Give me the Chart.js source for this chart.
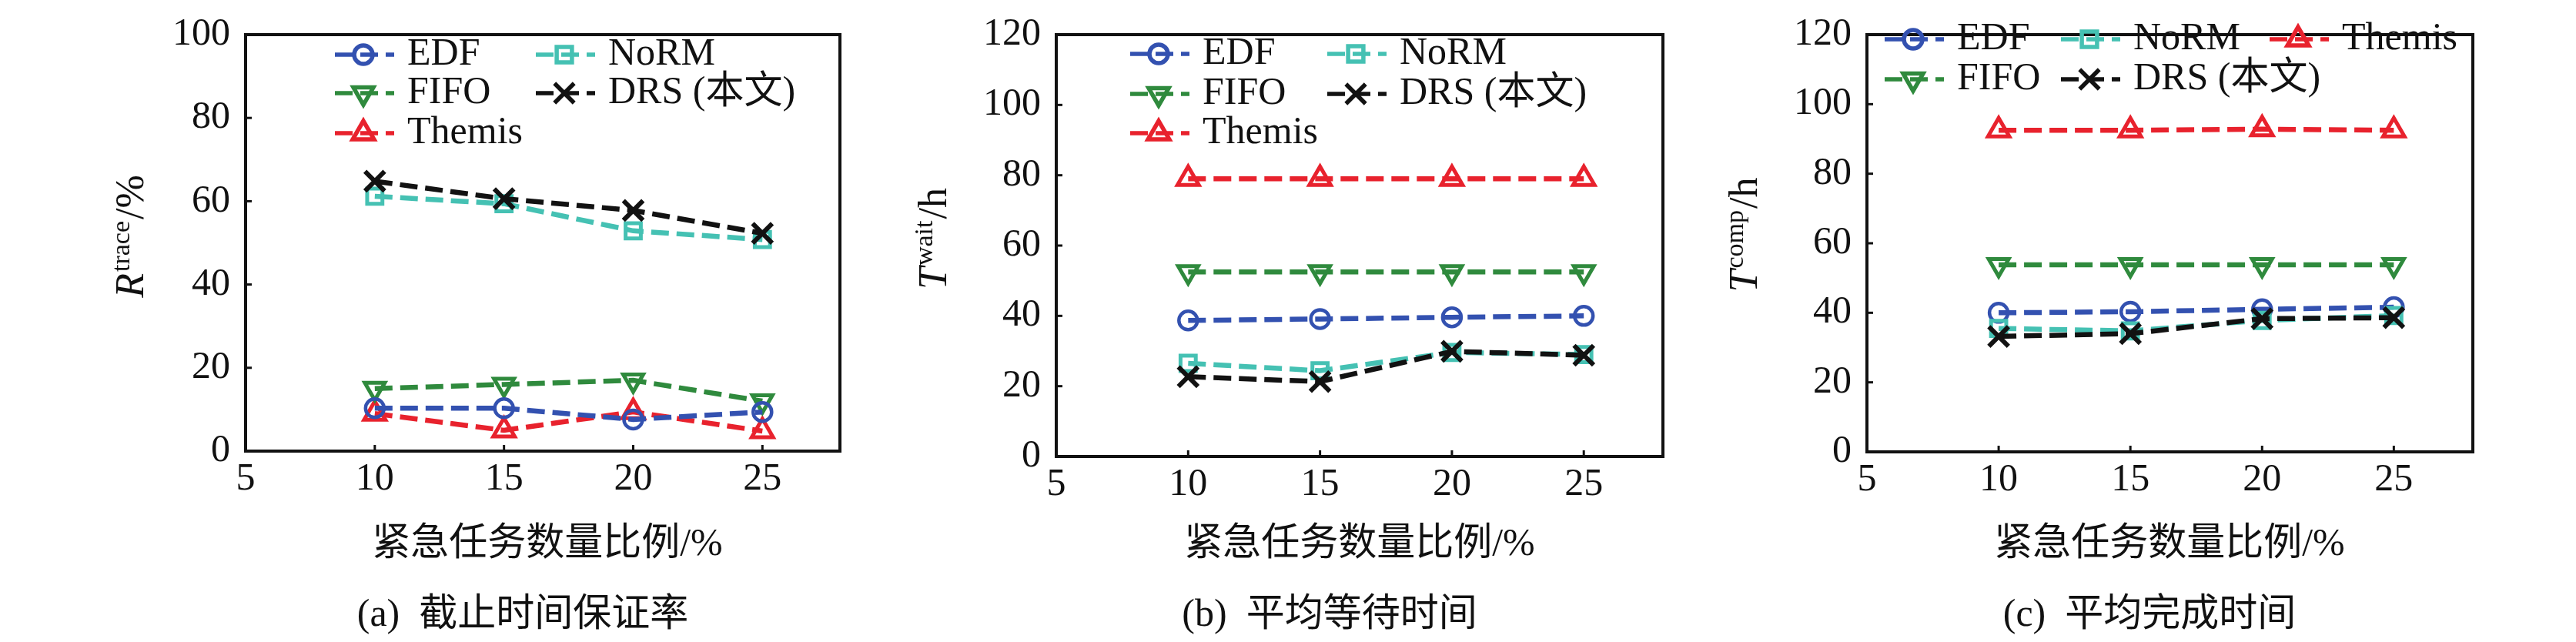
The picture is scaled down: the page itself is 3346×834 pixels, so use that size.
<!DOCTYPE html>
<html><head><meta charset="utf-8">
<script src="https://cdn.jsdelivr.net/npm/chart.js@4.4.1/dist/chart.umd.min.js"></script>
<style>
html,body{margin:0;padding:0;background:#fff;width:3346px;height:834px;overflow:hidden}
canvas{position:absolute;top:0}
</style></head><body>
<canvas id="ca" width="1115" height="834" style="left:0px"></canvas>
<canvas id="cb" width="1115" height="834" style="left:1115px"></canvas>
<canvas id="cc" width="1116" height="834" style="left:2230px"></canvas>
<script>
// ---------------- data ----------------
const categories = [10, 15, 20, 25];
const seriesNames = ['EDF', 'NoRM', 'FIFO', 'DRS (本文)', 'Themis'];
const xTicks = [5, 10, 15, 20, 25];
const yTicksA = [0, 20, 40, 60, 80, 100];
const yTicksBC = [0, 20, 40, 60, 80, 100, 120];

// (a) deadline guarantee rate R^trace / %
const edfA    = [10.3, 10.3, 7.6, 9.4];
const normA   = [61.2, 59.4, 52.9, 50.8];
const fifoA   = [15.0, 16.0, 17.0, 12.0];
const drsA    = [64.8, 60.6, 57.8, 52.3];
const themisA = [9.0, 5.0, 9.4, 4.8];

// (b) average waiting time T^wait / h
const edfB    = [38.7, 39.1, 39.6, 40.0];
const normB   = [26.5, 24.4, 29.6, 29.0];
const fifoB   = [52.5, 52.5, 52.5, 52.5];
const drsB    = [22.7, 21.3, 29.9, 28.8];
const themisB = [79.0, 79.0, 79.0, 79.0];

// (c) average completion time T^comp / h
const edfC    = [40.0, 40.3, 41.0, 41.6];
const normC   = [35.5, 34.8, 37.8, 39.2];
const fifoC   = [53.8, 53.8, 53.8, 53.8];
const drsC    = [33.2, 34.0, 38.3, 38.6];
const themisC = [92.5, 92.5, 92.8, 92.5];

// ---------------- styles ----------------
const SERIF = '"Liberation Serif", "Noto Sans CJK SC", serif';
const styles = [
  {color:'#3351b0', pointStyle:'circle',   radius:12, rotation:0,   pbw:4.5},
  {color:'#45c1b3', pointStyle:'rect',     radius:14, rotation:0,   pbw:5},
  {color:'#2f8a3d', pointStyle:'triangle', radius:15, rotation:180, pbw:5},
  {color:'#121212', pointStyle:'crossRot', radius:18, rotation:0,   pbw:6},
  {color:'#e8222d', pointStyle:'triangle', radius:16, rotation:0,   pbw:5}
];
const drawOrder = [3, 2, 4, 0, 5]; // lower = on top

const panels = [
  {id:'ca', offset:0, area:{left:319, right:1104, top:26, bottom:586}, yMax:100, yTicks:yTicksA,
   series:[edfA, normA, fifoA, drsA, themisA],
   yTitle:{main:'R', sup:'trace', tail:'/%', x:186, cy:307},
   legend:[[0,435,71],[1,696,71],[2,435,121],[3,696,121],[4,435,173]],
   xTitle:'紧急任务数量比例/%', xTitleX:711, caption:'(a)  截止时间保证率', captionX:679},
  {id:'cb', offset:1115, area:{left:1372, right:2160, top:32, bottom:593}, yMax:120, yTicks:yTicksBC,
   series:[edfB, normB, fifoB, drsB, themisB],
   yTitle:{main:'T', sup:'wait', tail:'/h', x:1229, cy:310},
   legend:[[0,1468,70],[1,1724,70],[2,1468,122],[3,1724,122],[4,1468,173]],
   xTitle:'紧急任务数量比例/%', xTitleX:1766, caption:'(b)  平均等待时间', captionX:1727},
  {id:'cc', offset:2230, area:{left:2425, right:3212, top:27, bottom:587}, yMax:120, yTicks:yTicksBC,
   series:[edfC, normC, fifoC, drsC, themisC],
   yTitle:{main:'T', sup:'comp', tail:'/h', x:2282, cy:305},
   legend:[[0,2448,51],[1,2677,51],[4,2948,51],[2,2448,103],[3,2677,103]],
   xTitle:'紧急任务数量比例/%', xTitleX:2818, caption:'(c)  平均完成时间', captionX:2792}
];

function makeDeco(p) {
  return {
    id: 'deco_' + p.id,
    afterDraw(chart) {
      const ctx = chart.ctx, a = chart.chartArea, xs = chart.scales.x, ys = chart.scales.y;
      const off = p.offset;
      ctx.save();
      // inward tick marks
      ctx.strokeStyle = '#111'; ctx.lineWidth = 3; ctx.lineCap = 'butt';
      xTicks.forEach(v => {
        if (v === xs.min) return;
        const px = xs.getPixelForValue(v);
        ctx.beginPath(); ctx.moveTo(px, a.bottom); ctx.lineTo(px, a.bottom - 8); ctx.stroke();
      });
      p.yTicks.forEach(v => {
        if (v === ys.min || v === ys.max) return;
        const py = ys.getPixelForValue(v);
        ctx.beginPath(); ctx.moveTo(a.left, py); ctx.lineTo(a.left + 8, py); ctx.stroke();
      });
      // frame
      ctx.lineWidth = 4; ctx.lineJoin = 'miter';
      ctx.strokeRect(a.left, a.top, a.right - a.left, a.bottom - a.top);

      // legend
      ctx.textBaseline = 'middle'; ctx.textAlign = 'left';
      p.legend.forEach(([i, lx, ly]) => {
        const s = styles[i];
        const x0 = lx - off;
        ctx.save();
        ctx.strokeStyle = s.color; ctx.lineWidth = 5.5; ctx.setLineDash([23, 10]);
        ctx.beginPath(); ctx.moveTo(x0, ly); ctx.lineTo(x0 + 77, ly); ctx.stroke();
        ctx.setLineDash([]);
        ctx.strokeStyle = s.color; ctx.fillStyle = 'rgba(0,0,0,0)';
        Chart.helpers.drawPoint(ctx, {pointStyle: s.pointStyle, rotation: s.rotation,
          radius: s.radius, borderWidth: s.pbw}, x0 + 37, ly);
        ctx.restore();
        ctx.fillStyle = '#111'; ctx.font = '50px ' + SERIF;
        ctx.fillText(seriesNames[i], x0 + 94, ly);
      });

      // y-axis title with superscript
      const t = p.yTitle;
      const fBig = 'italic 52px ' + SERIF, fSup = '34px ' + SERIF, fTail = '52px ' + SERIF;
      ctx.font = fBig; const w1 = ctx.measureText(t.main).width;
      ctx.font = fSup; const w2 = ctx.measureText(t.sup).width;
      ctx.font = fTail; const w3 = ctx.measureText(t.tail).width;
      const total = w1 + w2 + w3 + 4;
      ctx.save();
      ctx.translate(t.x - off, t.cy); ctx.rotate(-Math.PI / 2);
      ctx.textBaseline = 'alphabetic'; ctx.textAlign = 'left'; ctx.fillStyle = '#111';
      let x = -total / 2;
      ctx.font = fBig; ctx.fillText(t.main, x, 0); x += w1 + 2;
      ctx.font = fSup; ctx.fillText(t.sup, x, -18); x += w2 + 2;
      ctx.font = fTail; ctx.fillText(t.tail, x, 0);
      ctx.restore();

      // x-axis title and caption
      ctx.textAlign = 'center'; ctx.textBaseline = 'middle'; ctx.fillStyle = '#111';
      ctx.font = '50px ' + SERIF;
      ctx.fillText(p.xTitle, p.xTitleX - off, 708);
      ctx.fillText(p.caption, p.captionX - off, 800);
      ctx.restore();
    }
  };
}

panels.forEach(p => {
  const canvas = document.getElementById(p.id);
  const W = canvas.width, H = canvas.height;
  const leftW = p.area.left - p.offset;
  const rightPad = W - (p.area.right - p.offset);
  const bottomH = H - p.area.bottom;
  const datasets = p.series.map((vals, i) => ({
    label: seriesNames[i],
    data: categories.map((c, k) => ({x: c, y: vals[k]})),
    borderColor: styles[i].color,
    backgroundColor: 'rgba(0,0,0,0)',
    borderWidth: 6.5,
    borderDash: [23, 10],
    pointStyle: styles[i].pointStyle,
    pointRadius: styles[i].radius,
    pointRotation: styles[i].rotation,
    pointBorderWidth: styles[i].pbw,
    pointBorderColor: styles[i].color,
    pointBackgroundColor: 'rgba(0,0,0,0)',
    tension: 0,
    fill: false,
    clip: false,
    order: drawOrder[i]
  }));
  new Chart(canvas, {
    type: 'line',
    data: {datasets},
    options: {
      responsive: false,
      animation: false,
      devicePixelRatio: 1,
      events: [],
      layout: {padding: {left: 0, right: rightPad, top: p.area.top, bottom: 0}},
      plugins: {legend: {display: false}, tooltip: {enabled: false}, title: {display: false}},
      scales: {
        x: {
          type: 'linear', min: 5, max: 28,
          afterBuildTicks: s => { s.ticks = xTicks.map(v => ({value: v})); },
          afterFit: s => { s.height = bottomH; },
          grid: {display: false, drawTicks: false},
          border: {display: false},
          ticks: {color: '#111', padding: 12, maxRotation: 0, autoSkip: false,
                  font: {family: SERIF, size: 50, lineHeight: 1}}
        },
        y: {
          type: 'linear', min: 0, max: p.yMax,
          afterBuildTicks: s => { s.ticks = p.yTicks.map(v => ({value: v})); },
          afterFit: s => { s.width = leftW; },
          grid: {display: false, drawTicks: false},
          border: {display: false},
          ticks: {color: '#111', padding: 20, autoSkip: false,
                  font: {family: SERIF, size: 50, lineHeight: 1}}
        }
      }
    },
    plugins: [makeDeco(p)]
  });
});
</script>
</body></html>
